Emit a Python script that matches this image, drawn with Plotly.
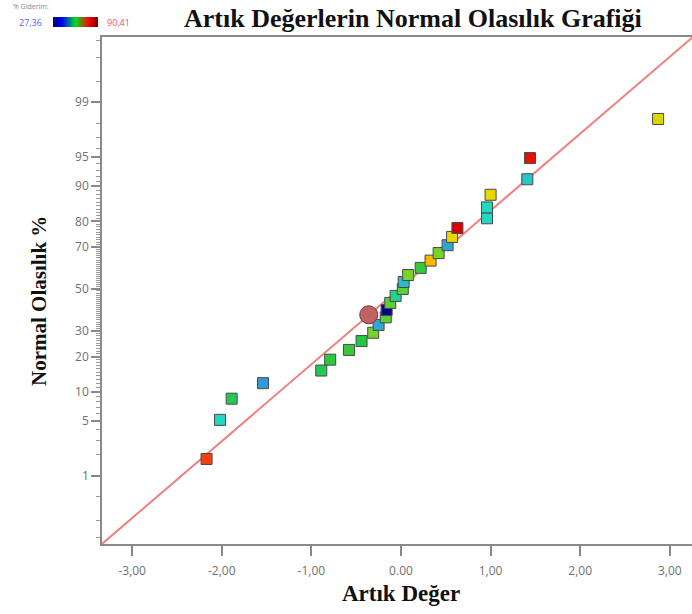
import plotly.graph_objects as go
from statistics import NormalDist

nd = NormalDist()

# ---------------- data ----------------
residuals = [-2.17, -2.02, -1.89, -1.54, -0.89, -0.79, -0.58, -0.44, -0.31, -0.25,
             -0.17, -0.16, -0.12, -0.06, 0.02, 0.03, 0.08, 0.22, 0.33, 0.42,
             0.52, 0.57, 0.63, 0.96, 0.96, 1.00, 1.41, 1.44, 2.87]
giderim = [86.0, 53.8, 61.0, 44.4, 61.0, 62.5, 63.0, 62.0, 66.5, 46.3,
           65.0, 28.5, 65.0, 57.0, 65.0, 49.4, 66.5, 63.0, 77.8, 66.5,
           46.3, 74.6, 90.4, 53.8, 53.8, 74.6, 51.3, 89.1, 73.4]
giderim_min, giderim_max = 27.36, 90.41
highlight_x, highlight_pct = -0.36, 37.4
line_mu, line_sigma = -0.02, 1.046
x_tickvals = [-3, -2, -1, 0, 1, 2, 3]
x_ticktext = ["-3,00", "-2,00", "-1,00", "0.00", "1,00", "2,00", "3,00"]
y_major_pct = [1, 5, 10, 20, 30, 50, 70, 80, 90, 95, 99]
y_minor_pct = [0.1, 0.2, 0.5] + list(range(1, 100)) + [99.5, 99.8, 99.9]

n = len(residuals)
probs = [(i + 0.5) / n for i in range(n)]
z_pts = [nd.inv_cdf(p) for p in probs]

W, H = 692, 614
L, R, T, B = 102, 692, 37, 544
x_rng = [-3.337, 3.248]
y_rng = [-3.172, 3.134]

pt_scale = [[0.0, '#000080'], [0.12, '#1030e0'], [0.27, '#3399d8'], [0.42, '#22d8c0'],
            [0.55, '#22c840'], [0.65, '#9ad820'], [0.75, '#e8d800'], [0.85, '#ff9a00'],
            [0.93, '#f44010'], [1.0, '#d80000']]
bar_scale = [[0.0, '#000070'], [0.2, '#0000ff'], [0.5, '#00e020'], [0.8, '#ff0000'], [1.0, '#700000']]

fig = go.Figure()

# reference normal line
lx = [x_rng[0] - 0.1, x_rng[1] + 0.1]
lz = [(v - line_mu) / line_sigma for v in lx]
fig.add_trace(go.Scatter(x=lx, y=lz, mode='lines', line=dict(color='#f08080', width=2),
                         hoverinfo='skip', showlegend=False))

fig.add_trace(go.Scatter(
    x=residuals, y=z_pts, mode='markers', showlegend=False,
    marker=dict(symbol='square', size=11, color=giderim, colorscale=pt_scale,
                cmin=giderim_min, cmax=giderim_max,
                line=dict(color='#4a4a4a', width=1))))

fig.add_trace(go.Scatter(
    x=[highlight_x], y=[nd.inv_cdf(highlight_pct / 100)], mode='markers', showlegend=False,
    marker=dict(symbol='circle', size=18, color='#c06262', line=dict(color='#6a3a3a', width=1))))

# legend colour bar
bar_vals = [giderim_min + (giderim_max - giderim_min) * k / 99 for k in range(100)]
fig.add_trace(go.Heatmap(z=[bar_vals], x=list(range(100)), y=[0], colorscale=bar_scale,
                         showscale=False, xaxis='x2', yaxis='y2', hoverinfo='skip'))

axis_font = dict(family='Open Sans, Arial', size=12, color='#707070')
fig.update_layout(
    width=W, height=H, margin=dict(l=0, r=0, t=0, b=0),
    paper_bgcolor='white', plot_bgcolor='white',
    xaxis=dict(domain=[L / W, R / W], range=x_rng, tickmode='array', tickvals=x_tickvals,
               ticktext=x_ticktext, ticks='outside', ticklen=10, tickcolor='#888', tickwidth=1.5,
               ticklabelstandoff=5,
               showline=True, linecolor='#8a8a8a', linewidth=1.5, mirror=True,
               showgrid=False, zeroline=False, tickfont=axis_font),
    yaxis=dict(domain=[1 - B / H, 1 - T / H], range=y_rng, tickmode='array',
               tickvals=[nd.inv_cdf(p / 100) for p in y_major_pct],
               ticktext=[str(p) for p in y_major_pct], ticks='outside', ticklen=9,
               tickcolor='#888', tickwidth=1.5,
               minor=dict(tickmode='array', tickvals=[nd.inv_cdf(p / 100) for p in y_minor_pct],
                          ticks='outside', ticklen=4, tickcolor='#999', tickwidth=1),
               showline=True, linecolor='#8a8a8a', linewidth=1.5, mirror=False,
               showgrid=False, zeroline=False, tickfont=axis_font),
    xaxis2=dict(domain=[53 / W, 98 / W], anchor='y2', visible=False, fixedrange=True),
    yaxis2=dict(domain=[1 - 27 / H, 1 - 17 / H], anchor='x2', visible=False, fixedrange=True),
)

def serif(size):
    return dict(family='Liberation Serif, Times New Roman, serif', size=size, color='#111')

fig.add_annotation(text='<b>Artık Değerlerin Normal Olasılık Grafiği</b>', xref='paper', yref='paper',
                   x=413 / W, y=1 - 18 / H, xanchor='center', yanchor='middle', showarrow=False,
                   font=serif(26))
fig.add_annotation(text='<b>Normal Olasılık %</b>', xref='paper', yref='paper', textangle=-90,
                   x=39 / W, y=1 - 301 / H, xanchor='center', yanchor='middle', showarrow=False,
                   font=serif(21))
fig.add_annotation(text='<b>Artık Değer</b>', xref='paper', yref='paper',
                   x=401 / W, y=1 - 593 / H, xanchor='center', yanchor='middle', showarrow=False,
                   font=serif(23))
fig.add_annotation(text='% Giderim:', xref='paper', yref='paper', x=11 / W, y=1 - 6 / H,
                   xanchor='left', yanchor='middle', showarrow=False,
                   font=dict(family='Open Sans, Arial', size=7, color='#8888a0'))
fig.add_annotation(text='27,36', xref='paper', yref='paper', x=44 / W, y=1 - 22 / H,
                   xanchor='right', yanchor='middle', showarrow=False,
                   font=dict(family='Open Sans, Arial', size=9, color='#5a5aff'))
fig.add_annotation(text='90,41', xref='paper', yref='paper', x=105 / W, y=1 - 22 / H,
                   xanchor='left', yanchor='middle', showarrow=False,
                   font=dict(family='Open Sans, Arial', size=9, color='#ff4a6a'))

fig.write_html('out.html')
